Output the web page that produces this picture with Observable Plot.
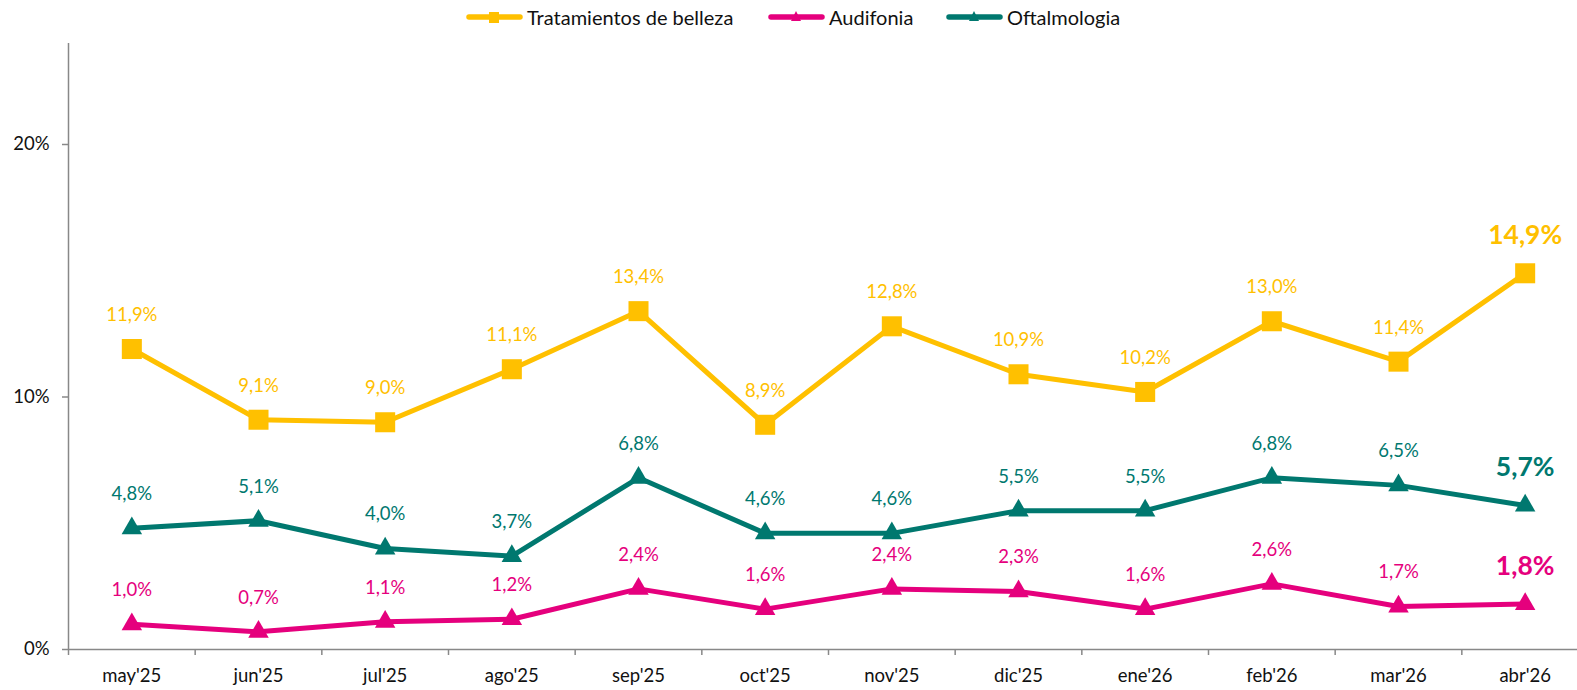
<!DOCTYPE html>
<html>
<head>
<meta charset="utf-8">
<script src="https://cdn.jsdelivr.net/npm/d3@7"></script>
<script src="https://cdn.jsdelivr.net/npm/@observablehq/plot@0.6"></script>
<style>
  html, body { margin: 0; padding: 0; background: #fff; }
  body { width: 1577px; height: 690px; overflow: hidden; font-family: Lato, "Open Sans", sans-serif; }
  #legend { height: 35px; position: relative; font-size: 20px; color: #111; }
  .item { position: absolute; top: 5px; display: flex; align-items: center; height: 24px; }
  .item svg { margin-right: 3px; }
</style>
</head>
<body>
<div id="legend"></div>
<div id="chart"></div>
<script>
const months = ["may'25","jun'25","jul'25","ago'25","sep'25","oct'25","nov'25","dic'25","ene'26","feb'26","mar'26","abr'26"];
const tratamientos = [11.9, 9.1, 9.0, 11.1, 13.4, 8.9, 12.8, 10.9, 10.2, 13.0, 11.4, 14.9];
const audifonia = [1.0, 0.7, 1.1, 1.2, 2.4, 1.6, 2.4, 2.3, 1.6, 2.6, 1.7, 1.8];
const oftalmologia = [4.8, 5.1, 4.0, 3.7, 6.8, 4.6, 4.6, 5.5, 5.5, 6.8, 6.5, 5.7];
const yTicks = [0, 10, 20];

const seriesDefs = [
  {name: "Tratamientos de belleza", values: tratamientos, color: "#FFC000", symbol: "square", r: 11.3, left: 464},
  {name: "Audifonia", values: audifonia, color: "#E5007D", symbol: "triangle", r: 7.6, left: 766},
  {name: "Oftalmologia", values: oftalmologia, color: "#00786F", symbol: "triangle", r: 7.6, left: 944}
];

const rows = seriesDefs.flatMap(s => s.values.map((v, i) => ({series: s.name, i, x: i + 0.5, v, color: s.color, symbol: s.symbol, r: s.r, last: i === s.values.length - 1})));
const fmt = v => v.toFixed(1).replace(".", ",") + "%";

// Legend
const legend = document.getElementById("legend");
for (const s of seriesDefs) {
  const div = document.createElement("div");
  div.className = "item";
  div.style.left = s.left + "px";
  const mark = s.symbol === "square"
    ? `<rect x="25" y="6" width="10" height="11" fill="${s.color}"/>`
    : `<path d="M30,5 L35,15 L25,15 Z" fill="${s.color}"/>`;
  div.innerHTML = `<svg width="60" height="22"><line x1="5" x2="56" y1="11" y2="11" stroke="${s.color}" stroke-width="5.5" stroke-linecap="round"/>${mark}</svg><span>${s.name}</span>`;
  legend.appendChild(div);
}

const chart = Plot.plot({
  width: 1577,
  height: 655,
  marginTop: 8,
  marginBottom: 41,
  marginLeft: 68,
  marginRight: 0,
  style: {fontFamily: "Lato, 'Open Sans', sans-serif", fontSize: "18px", color: "#111", background: "#fff"},
  x: {type: "linear", domain: [0, 12], range: [68, 1588], axis: null},
  y: {domain: [0, 24], axis: null},
  r: {type: "identity"},
  symbol: {type: "identity"},
  color: {type: "identity"},
  marks: [
    Plot.axisY(yTicks, {label: null, tickSize: 6, tickFormat: d => d + "%", stroke: "#888", strokeWidth: 1.5, tickPadding: 13, fill: "#111", fontSize: 18.5}),
    Plot.axisX(d3.range(0, 12), {label: null, tickSize: 6, tickFormat: () => "", stroke: "#888", strokeWidth: 1.5}),
    Plot.axisX(months.map((m, i) => i + 0.5), {label: null, tickSize: 0, tickPadding: 19, tickFormat: d => months[Math.floor(d)], fill: "#111", fontSize: 18.5}),
    Plot.ruleX([0], {x: () => 0, y1: 0, y2: 24, stroke: "#888", strokeWidth: 1.5}),
    Plot.ruleY([0], {stroke: "#888", strokeWidth: 1.5}),
    Plot.line(rows, {x: "x", y: "v", z: "series", stroke: "color", strokeWidth: 5, strokeLinejoin: "round"}),
    Plot.dot(rows, {x: "x", y: "v", symbol: "symbol", r: "r", fill: "color", stroke: null}),
    Plot.text(rows.filter(d => !d.last), {x: "x", y: "v", text: d => fmt(d.v), fill: "color", dy: -34, fontSize: 18.5}),
    Plot.text(rows.filter(d => d.last), {x: "x", y: "v", text: d => fmt(d.v), fill: "color", dy: -38, fontSize: 26.5, fontWeight: "bold"})
  ]
});
document.getElementById("chart").appendChild(chart);
</script>
</body>
</html>
